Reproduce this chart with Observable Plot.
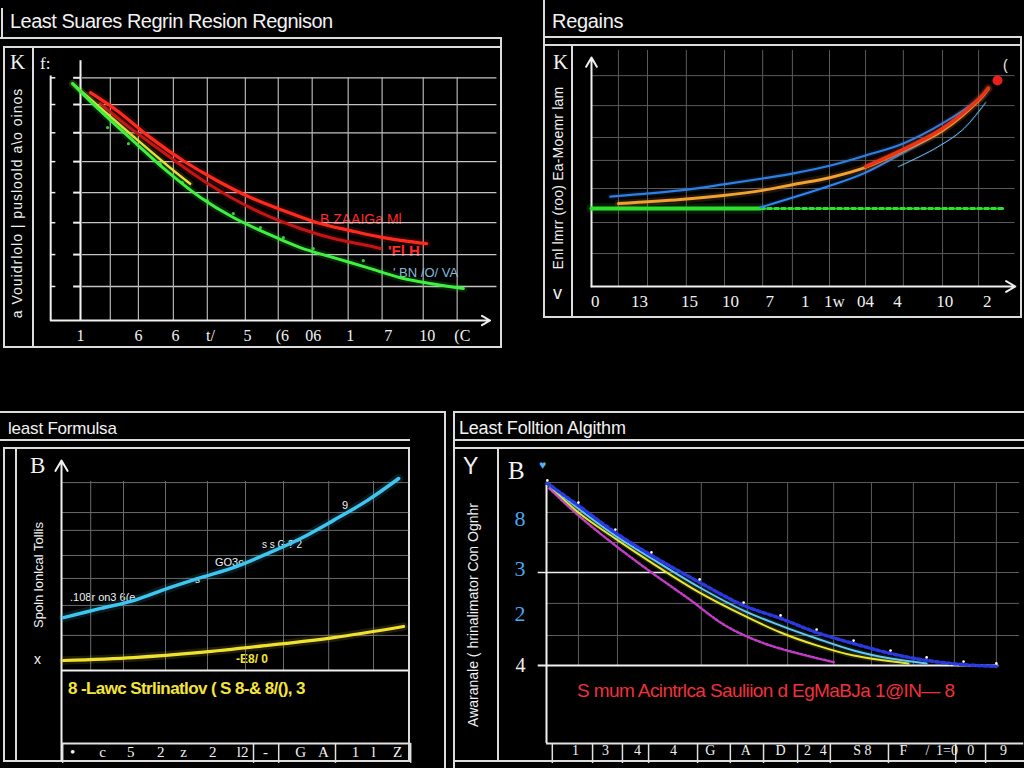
<!DOCTYPE html>
<html><head><meta charset="utf-8">
<script src="https://cdn.jsdelivr.net/npm/d3@7"></script>
<script src="https://cdn.jsdelivr.net/npm/@observablehq/plot@0.6"></script>
<style>
html,body{margin:0;padding:0;background:#000;}
#root{position:relative;width:1024px;height:768px;overflow:hidden;background:#000;font-family:"Liberation Sans",Arial,sans-serif;color:#f2f2f2;}
.abs{position:absolute;}
.t{position:absolute;white-space:nowrap;line-height:1;}
</style></head><body><div id="root"></div>
<script>
// ---------- Panel 1: "Least Suares Regrin Resion Regnison" ----------
const p1GridX = [0,0.87,1.69,2.71,3.7,4.81,5.77,6.76,7.81,8.8,10,10.99];
const p1GridY = [1.12,2.17,3.22,4.21,5.23,6.18,7.11,7.99];
const p1TickX = [0,1.69,2.77,3.79,4.87,5.89,6.79,7.87,8.98,10.12,11.14];
const p1TickLabels = ["1","6","6","t/","5","(6","06","1","7","10","(C"];
const p1GreenX = [-0.23,0.58,1.55,2.54,3.5,4.46,5.45,6.41,7.38,8.37,9.33,10.3,11.17];
const p1GreenY = [7.8,6.9,5.9,4.9,4.05,3.39,2.86,2.4,2.07,1.74,1.41,1.2,1.05];
const p1RedX = [0.29,1.08,2.04,3.0,3.99,4.96,5.92,6.91,7.87,8.83,10.1];
const p1RedY = [7.5,6.9,6.02,5.26,4.6,4.05,3.62,3.22,2.96,2.73,2.53];
const p1DarkRedX = [0.58,1.55,2.54,3.5,4.46,5.45,6.41,7.38,8.37,8.75];
const p1DarkRedY = [7.14,6.25,5.43,4.67,4.01,3.45,3.03,2.7,2.47,2.37];
const p1YellowX = [-0.23,0.58,1.55,2.54,3.2];
const p1YellowY = [7.8,7.0,6.05,5.1,4.5];
const p1ScatterX = [0.79,1.4,1.95,2.33,2.97,3.7,4.46,5.25,5.92,6.79,7.38,8.25];
const p1ScatterY = [6.35,5.82,5.49,5.16,4.54,3.95,3.52,3.06,2.73,2.37,2.07,1.97];

// ---------- Panel 2: "Regains" ----------
const p2GridX = [0.77,1.6,2.71,3.8,4.89,5.74,6.8,7.83,8.91,10.03,11.06];
const p2GridY = [1.22,2.37,3.63,4.67,5.52,6.7,7.81];
const p2TickX = [0.11,1.37,2.8,3.97,5.09,6.11,6.94,7.83,8.74,10.09,11.31];
const p2TickLabels = ["0","13","15","10","7","1","1w","04","4","10","2"];
const p2BlueX = [0.54,2.54,3.77,4.89,5.77,6.83,7.83,8.91,10.03,11.11,11.34];
const p2BlueY = [3.33,3.56,3.78,4.0,4.19,4.48,4.85,5.3,6.04,7.0,7.33];
const p2OrangeX = [0.77,2.54,3.77,4.89,5.77,6.83,7.83,8.91,10.03,11.11,11.34];
const p2OrangeY = [3.07,3.22,3.37,3.56,3.78,4.04,4.41,5.04,5.78,6.96,7.33];
const p2RedX = [7.83,8.91,10.03,11.11,11.34];
const p2RedY = [4.44,5.08,5.85,7.0,7.35];
const p2LowBlueX = [4.83,6.83,7.83,8.91,10.03,11.2];
const p2LowBlueY = [2.93,3.74,4.22,4.96,5.78,7.07];
const p2ThinBlueX = [8.77,9.8,10.6,11.26];
const p2ThinBlueY = [4.44,5.1,5.8,6.81];
const p2GreenX = [0,1.5,3,4.83];
const p2GreenY = [2.89,2.89,2.89,2.89];
const p2GreenDashX = [4.83,7,9.5,11.83];
const p2GreenDashY = [2.89,2.89,2.89,2.89];
const p2PointX = [11.6];
const p2PointY = [7.63];

// ---------- Panel 3: "least Formulsa" ----------
const p3GridX = [0.73,1.55,2.6,3.65,4.6,5.55,6.68,7.8];
const p3GridY = [1.3,2.41,3.41,4.26,5.19,5.85,6.96];
const p3CyanX = [0.05,0.98,1.8,2.65,3.48,4.3,5.15,5.98,6.8,7.65,8.43];
const p3CyanY = [1.96,2.3,2.59,3.04,3.44,3.81,4.33,4.89,5.56,6.3,7.11];
const p3YellowX = [0.05,1.8,3.48,5.15,6.8,8.55];
const p3YellowY = [0.37,0.48,0.67,0.93,1.22,1.63];
const p3BottomX = [0.28,1.03,1.73,2.48,3.05,3.78,4.53,5.1,5.98,6.55,7.35,7.8,8.4];
const p3BottomLabels = ["•","c","5","2","z","2","l2","-","G","A","1","l","Z"];
const p3SepX = [0.03,4.8,5.43,6.85,8.73];

// ---------- Panel 4: "Least Folltion Algithm" ----------
const p4GridX = [0.77,1.71,3.73,4.84,5.81,6.92,7.83,8.84,9.83,10.84];
const p4GridY = [1.0,2.07,3.1,4.1,5.1,6.1];
const p4BlueX = [0.02,0.77,1.66,2.53,3.69,4.75,5.64,6.51,7.4,8.29,9.16,10.05,10.84];
const p4BlueY = [6.07,5.33,4.43,3.67,2.77,2.0,1.57,1.1,0.73,0.4,0.17,0.03,-0.03];
const p4LightX = [0.02,0.77,1.66,2.53,3.69,4.75,5.64,6.51,7.4,8.29,9.16];
const p4LightY = [6.07,5.23,4.33,3.57,2.6,1.83,1.33,0.9,0.5,0.23,0.07];
const p4YellowX = [0.02,0.77,1.66,2.53,3.69,4.75,5.64,6.51,7.4,8.72];
const p4YellowY = [6.07,5.1,4.23,3.43,2.43,1.67,1.1,0.67,0.33,0.07];
const p4MagentaX = [0.07,0.77,1.66,2.53,3.42,4.31,5.18,6.07,6.96];
const p4MagentaY = [5.9,5.0,4.0,3.1,2.23,1.33,0.77,0.4,0.1];
const p4TickY = [4.9,3.23,1.73];
const p4TickYLabels = ["8","3","2"];
const p4TickY0 = [0];
const p4TickY0Labels = ["4"];
const p4BottomX = [0.7,1.42,2.19,3.06,3.95,4.8,5.64,6.29,6.67,7.61,8.6,9.18,9.65,10.22,11.01];
const p4BottomLabels = ["1","3","4","4","G","A","D","2","4","S 8","F","/","1=0","0","9"];
const p4SepX = [0.14,1.11,1.83,2.46,3.64,4.43,5.23,6.05,6.84,8.24,9.86,10.58];

// ---------- helpers ----------
const root = document.getElementById('root');
const FG = '#dcdcdc';
function box(x,y,w,h,c){const d=document.createElement('div');d.className='abs';Object.assign(d.style,{left:x+'px',top:y+'px',width:w+'px',height:h+'px',background:c||FG});root.appendChild(d);}
function hl(x1,x2,y,t){box(x1,y,x2-x1,t||2);}
function vl(x,y1,y2,t){box(x,y1,t||2,y2-y1);}
function txt(s,x,y,o){o=o||{};const d=document.createElement('div');d.className='t';d.textContent=s;
  Object.assign(d.style,{left:x+'px',top:y+'px',fontSize:(o.size||14)+'px',color:o.color||'#f2f2f2',
  fontFamily:o.font||'"Liberation Sans",Arial,sans-serif',fontWeight:o.weight||'normal',letterSpacing:(o.ls||0)+'px'});
  root.appendChild(d);return d;}
function rot(s,cx,cy,o){const d=txt(s,cx,cy,o);d.style.transform='translate(-50%,-50%) rotate(-90deg)';return d;}
const rows = (xs,ys)=>xs.map((x,i)=>({x,y:ys[i]}));
function glow(xs,ys,color,w,extra){
  const data = rows(xs,ys);
  return [
    Plot.line(data,{x:'x',y:'y',stroke:color,strokeWidth:w*2.6,strokeOpacity:0.13,curve:'catmull-rom'}),
    Plot.line(data,{x:'x',y:'y',stroke:color,strokeWidth:w,curve:'catmull-rom',...(extra||{})})
  ];
}
function mk(opts){
  const svg = Plot.plot({width:1024,height:768,...opts,
    style:{background:'transparent',color:'#f2f2f2',fontFamily:'"Liberation Serif",serif',fontSize:'16px',overflow:'visible'}});
  svg.style.position='absolute';svg.style.left='0px';svg.style.top='0px';
  root.appendChild(svg);
}
const fmt = (ticks,labels)=> (d)=>{const i=ticks.indexOf(d);return i<0?'':labels[i];};

// ---------- frames (layout) ----------
vl(1,8,38); hl(0,502,37); hl(3,502,46); vl(3,46,348); vl(32,46,348); vl(500,37,348); hl(3,502,346);
vl(543,0,318); hl(543,1022,36); hl(543,1022,44); vl(571,44,318); vl(1020,36,318); hl(543,1022,316);
hl(0,446,411); vl(444,411,768); hl(0,410,439); hl(3,410,447); vl(3,447,762); vl(15,447,762); vl(408,447,762); hl(3,410,760);
hl(453,1024,411); vl(453,411,768); hl(453,1024,439); hl(453,1024,447); vl(497,447,762); hl(453,1024,760);

// ---------- titles / annotations (text) ----------
txt('Least Suares Regrin Resion Regnison',10,11,{size:20,ls:-0.5});
txt('Regains',552,11,{size:20,ls:-0.3});
txt('least Formulsa',8,420,{size:17,ls:-0.2});
txt('Least Folltion Algithm',459,419,{size:18,ls:-0.2});

txt('K',10,52,{size:21,font:'"Liberation Serif",serif'});
txt('f:',40,55,{size:17,font:'"Liberation Serif",serif'});
rot('a  Vouidrlolo  |  pusloold  a\\o  oinos',17,203,{size:14,ls:1});
txt('B  ZAAIGa Ml',320,212,{size:14,color:'#ff2a2a'});
txt("'Fl H",388,243,{size:15,color:'#ff2a2a',weight:'bold'});
txt("' BN /O/ VA",393,266,{size:13,color:'#8ab8d8'});

txt('K',553,52,{size:21,font:'"Liberation Serif",serif'});
txt('v',553,284,{size:18});
rot('Enl  lmrr (roo) Ea-Moemr  lam',558,178,{size:14,ls:0.2});
txt('(',1003,58,{size:14});

txt('B',30,454,{size:23,font:'"Liberation Serif",serif'});
rot('Spoln  lonlcal  Tollis',38,575,{size:13});
txt('x',34,652,{size:14});
txt('.108r  on3 6(e',70,592,{size:11});
txt('s',195,575,{size:10});
txt('GO3c',215,557,{size:11});
txt('s  s G ? 2',262,540,{size:10});
txt('9',342,500,{size:11});
txt('-E8/ 0',236,653,{size:12,color:'#f3e23c',weight:'bold'});
txt('8 -Lawc Strlinatlov ( S 8-& 8/(), 3',68,680,{size:17,color:'#f5e53a',weight:'bold',ls:-0.6});

txt('Y',463,455,{size:23});
txt('B',508,458,{size:25,font:'"Liberation Serif",serif'});
txt('♥',539,459,{size:12,color:'#5bb0f0'});
rot('Awaranale ( hrinalimator Con Ognhr',473,615,{size:14});
txt('S mum Acintrlca Sauliion d EgMaBJa 1@IN\u2014  8',577,681,{size:19,color:'#f0303a',ls:-0.6});

// ---------- Panel 1 plot ----------
mk({
  marginLeft:80, marginRight:1024-457, marginTop:77, marginBottom:768-320,
  x:{domain:[0,11], label:null}, y:{domain:[0,8], axis:null, label:null},
  marks:[
    Plot.ruleY(p1GridY,{x1:0.06,x2:12.15,stroke:'#c4c4c4',strokeWidth:1.3}),
    Plot.ruleX(p1GridX,{y1:0,y2:8,stroke:'#b4b4b4',strokeWidth:1.2}),
    Plot.ruleX([0],{y1:0,y2:8.55,stroke:'#f0f0f0',strokeWidth:2}),
    Plot.ruleX([-0.87],{y1:0,y2:8.05,stroke:'#f0f0f0',strokeWidth:2}),
    Plot.ruleY(p1GridY,{x1:-0.2,x2:0,stroke:'#f0f0f0',strokeWidth:2}),
    Plot.ruleY(p1GridY,{x1:-0.87,x2:-0.72,stroke:'#f0f0f0',strokeWidth:1.5}),
    Plot.arrow([{x1:-0.87,y1:0,x2:11.95,y2:0}],{x1:'x1',y1:'y1',x2:'x2',y2:'y2',stroke:'#f0f0f0',strokeWidth:2,headLength:7}),
    Plot.dot(rows(p1ScatterX,p1ScatterY),{x:'x',y:'y',r:1.6,fill:'#2fcf3a'}),
    ...glow(p1DarkRedX,p1DarkRedY,'#c41414',3),
    ...glow(p1RedX,p1RedY,'#ff2a1c',3.2),
    ...glow(p1YellowX,p1YellowY,'#e8e03a',2.5),
    ...glow(p1GreenX,p1GreenY,'#3ef040',3),
    Plot.axisX({ticks:p1TickX,tickFormat:fmt(p1TickX,p1TickLabels),tickSize:0,tickPadding:9,fontSize:16,label:null})
  ]
});

// ---------- Panel 2 plot ----------
mk({
  marginLeft:591, marginRight:1024-1011, marginTop:70, marginBottom:768-286,
  x:{domain:[0,12], label:null}, y:{domain:[0,8], axis:null, label:null},
  marks:[
    Plot.ruleY(p2GridY,{x1:0,x2:12.1,stroke:'#5a5a5a',strokeWidth:1}),
    Plot.ruleX(p2GridX,{y1:0,y2:8.74,stroke:'#5a5a5a',strokeWidth:1}),
    Plot.arrow([{x1:0,y1:0,x2:0,y2:8.48}],{x1:'x1',y1:'y1',x2:'x2',y2:'y2',stroke:'#f0f0f0',strokeWidth:2,headLength:8}),
    Plot.arrow([{x1:0,y1:0,x2:12.11,y2:0}],{x1:'x1',y1:'y1',x2:'x2',y2:'y2',stroke:'#f0f0f0',strokeWidth:2,headLength:8}),
    ...glow(p2GreenX,p2GreenY,'#2ee02e',4),
    Plot.line(rows(p2GreenDashX,p2GreenDashY),{x:'x',y:'y',stroke:'#2ee02e',strokeWidth:3,strokeDasharray:'4,3'}),
    ...glow(p2LowBlueX,p2LowBlueY,'#2f86ec',2),
    ...glow(p2ThinBlueX,p2ThinBlueY,'#6fb8f0',1),
    ...glow(p2BlueX,p2BlueY,'#2f7fe0',2.2),
    ...glow(p2OrangeX,p2OrangeY,'#f2a030',3),
    ...glow(p2RedX,p2RedY,'#ea3418',3.5),
    Plot.dot(rows(p2PointX,p2PointY),{x:'x',y:'y',r:5,fill:'#e8201c'}),
    Plot.axisX({ticks:p2TickX,tickFormat:fmt(p2TickX,p2TickLabels),tickSize:0,tickPadding:8,fontSize:17,label:null})
  ]
});

// ---------- Panel 3 plot ----------
mk({
  marginLeft:61, marginRight:1024-401, marginTop:454, marginBottom:768-670,
  x:{domain:[0,8.5], label:null}, y:{domain:[0,8], axis:null, label:null},
  marks:[
    Plot.ruleY(p3GridY,{x1:0,x2:8.68,stroke:'#6a6a6a',strokeWidth:1}),
    Plot.ruleX(p3GridX,{y1:0,y2:7.0,stroke:'#6a6a6a',strokeWidth:1}),
    Plot.arrow([{x1:0,y1:-3.33,x2:0,y2:7.78}],{x1:'x1',y1:'y1',x2:'x2',y2:'y2',stroke:'#f0f0f0',strokeWidth:2,headLength:9}),
    Plot.ruleY([0],{x1:0,x2:8.68,stroke:'#f0f0f0',strokeWidth:2}),
    Plot.ruleY([-2.7],{x1:0,x2:8.73,stroke:'#e0e0e0',strokeWidth:2}),
    Plot.ruleX(p3SepX,{y1:-2.7,y2:-3.44,stroke:'#e0e0e0',strokeWidth:1.5}),
    ...glow(p3YellowX,p3YellowY,'#f0e030',3.2),
    ...glow(p3CyanX,p3CyanY,'#3ec6f0',3.5),
    Plot.axisX({ticks:p3BottomX,tickFormat:fmt(p3BottomX,p3BottomLabels),tickSize:0,tickPadding:76,fontSize:15,label:null})
  ]
});

// ---------- Panel 4 plot ----------
mk({
  marginLeft:546, marginRight:1024-1002.5, marginTop:485, marginBottom:768-665,
  x:{domain:[0,11], label:null}, y:{domain:[0,6], label:null},
  marks:[
    Plot.ruleY(p4GridY,{x1:0,x2:11.4,stroke:'#5c5c5c',strokeWidth:1}),
    Plot.ruleX(p4GridX,{y1:0,y2:6.1,stroke:'#5c5c5c',strokeWidth:1}),
    Plot.ruleX([0],{y1:-2.6,y2:6.0,stroke:'#f0f0f0',strokeWidth:2}),
    Plot.ruleY([0],{x1:-0.2,x2:10.9,stroke:'#f0f0f0',strokeWidth:2}),
    Plot.ruleY([3.1],{x1:-0.2,x2:2.9,stroke:'#f0f0f0',strokeWidth:1.5}),
    Plot.ruleY([-2.6],{x1:0,x2:11.5,stroke:'#e0e0e0',strokeWidth:2}),
    Plot.ruleX(p4SepX,{y1:-2.6,y2:-3.27,stroke:'#e0e0e0',strokeWidth:1.5}),
    Plot.line(rows(p4MagentaX,p4MagentaY),{x:'x',y:'y',stroke:'#c23cc8',strokeWidth:2.5,strokeDasharray:'2,2',curve:'catmull-rom'}),
    ...glow(p4YellowX,p4YellowY,'#e8e830',2),
    ...glow(p4LightX,p4LightY,'#62c8f2',2),
    Plot.line(rows(p4BlueX,p4BlueY),{x:'x',y:'y',stroke:'#2a3ae0',strokeWidth:3.5,strokeDasharray:'3,3',curve:'catmull-rom'}),
    Plot.dot(rows(p4BlueX,p4BlueY),{x:'x',y:'y',r:1.3,fill:'#ffffff',dy:-3}),
    Plot.axisY({ticks:p4TickY,tickFormat:fmt(p4TickY,p4TickYLabels),tickSize:0,tickPadding:21,fontSize:22,fill:'#4aa6ee',label:null}),
    Plot.axisY({ticks:p4TickY0,tickFormat:fmt(p4TickY0,p4TickY0Labels),tickSize:0,tickPadding:21,fontSize:20,fill:'#f0f0f0',label:null}),
    Plot.axisX({ticks:p4BottomX,tickFormat:fmt(p4BottomX,p4BottomLabels),tickSize:0,tickPadding:80,fontSize:14,label:null})
  ]
});
</script>
</body></html>
